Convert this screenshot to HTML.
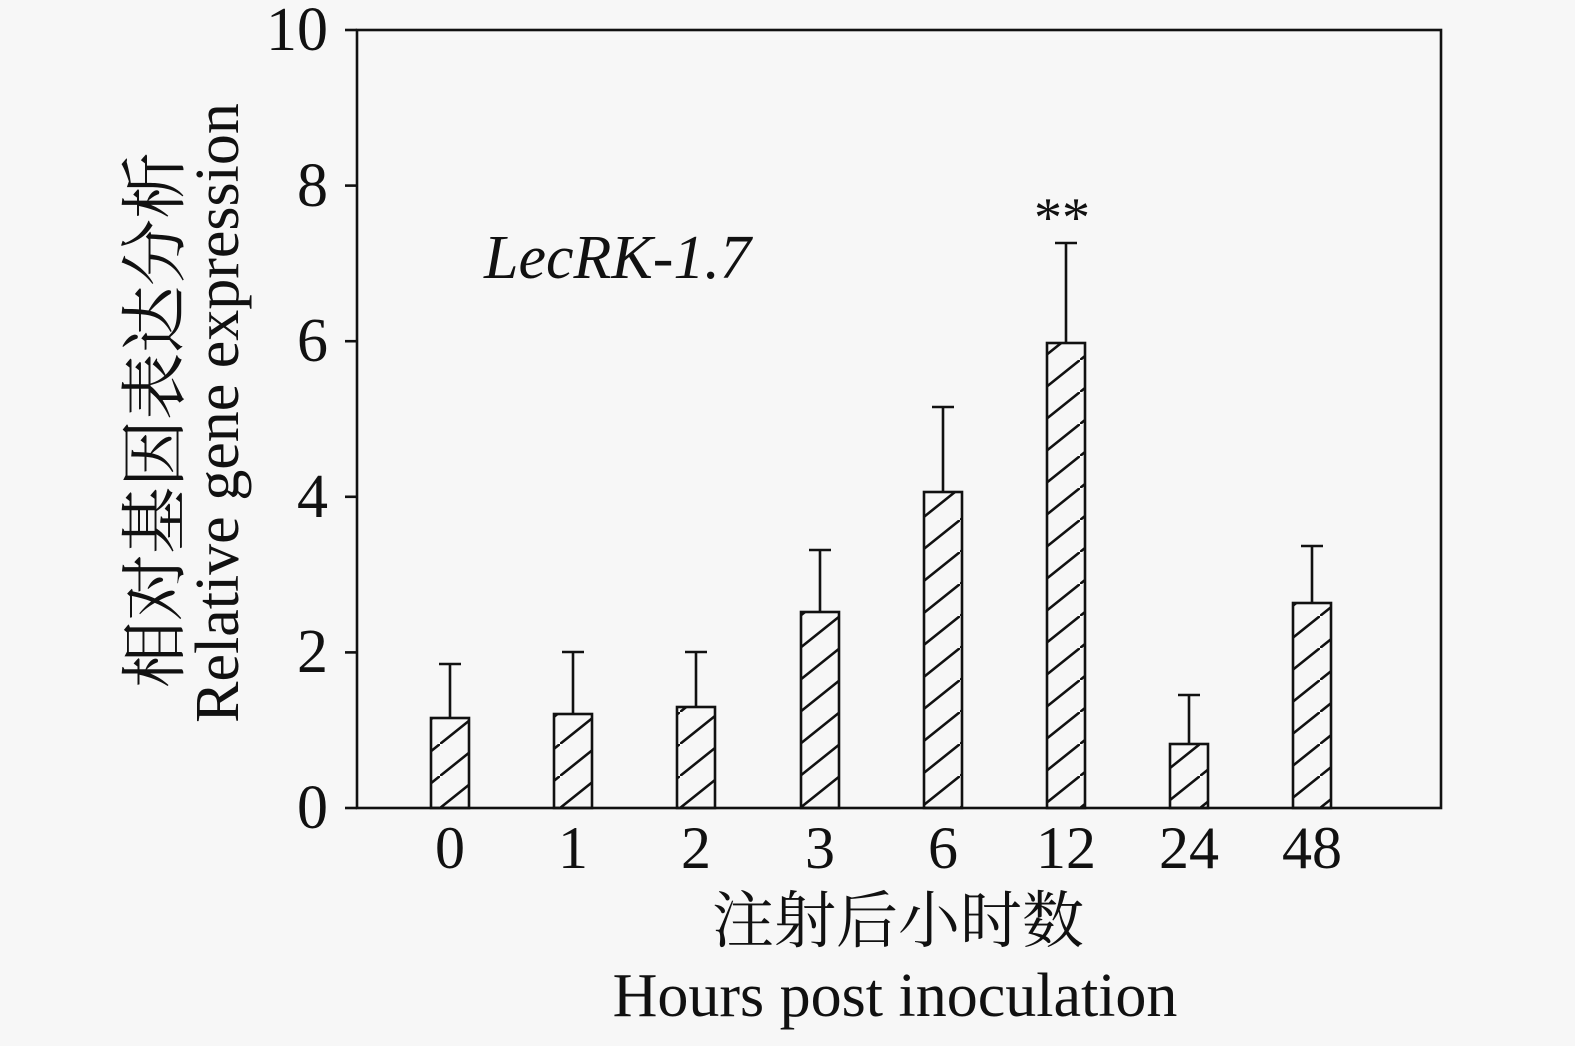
<!DOCTYPE html>
<html><head><meta charset="utf-8"><style>
html,body{margin:0;padding:0;background:#f7f7f7;}
</style></head><body>
<svg width="1575" height="1041" viewBox="0 0 1575 1041" xmlns="http://www.w3.org/2000/svg" font-family="'Liberation Serif','Noto Serif CJK SC',serif">
<defs>
<pattern id="h" patternUnits="userSpaceOnUse" width="40" height="32" patternTransform="translate(0,8)">
<path d="M-10,40 L40,0 M30,48 L80,8 M-50,32 L0,-8" stroke="#111" stroke-width="2.6" fill="none"/>
</pattern>
</defs>
<rect width="1575" height="1041" fill="#f7f7f7"/>
<g stroke="#111" stroke-width="2.6" fill="none">
<rect x="357" y="30" width="1084" height="778"/>
<line x1="345" y1="808" x2="357" y2="808"/>
<line x1="345" y1="652.4" x2="357" y2="652.4"/>
<line x1="345" y1="496.8" x2="357" y2="496.8"/>
<line x1="345" y1="341.2" x2="357" y2="341.2"/>
<line x1="345" y1="185.6" x2="357" y2="185.6"/>
<line x1="345" y1="30" x2="357" y2="30"/>
</g>
<g font-size="62" fill="#111" text-anchor="end">
<text x="328" y="828">0</text><text x="328" y="672">2</text><text x="328" y="517">4</text>
<text x="328" y="361">6</text><text x="328" y="206">8</text><text x="328" y="50">10</text>
</g>
<g stroke="#111" stroke-width="2.6">
<g fill="url(#h)">
<rect x="431" y="718" width="38" height="90"/>
<rect x="554" y="714" width="38" height="94"/>
<rect x="677" y="707" width="38" height="101"/>
<rect x="801" y="612" width="38" height="196"/>
<rect x="924" y="492" width="38" height="316"/>
<rect x="1047" y="343" width="38" height="465"/>
<rect x="1170" y="744" width="38" height="64"/>
<rect x="1293" y="603" width="38" height="205"/>
</g>
<path fill="none" d="M450,718V664M439,664H461 M573,714V652M562,652H584 M696,707V652M685,652H707 M820,612V550M809,550H831 M943,492V407M932,407H954 M1066,343V243M1055,243H1077 M1189,744V695M1178,695H1200 M1312,603V546M1301,546H1323"/>
</g>
<text x="1062" y="236" font-size="56" text-anchor="middle" fill="#111">**</text>
<text x="484" y="278" font-size="62" font-style="italic" fill="#111">LecRK-1.7</text>
<g font-size="60" fill="#111" text-anchor="middle">
<text x="450" y="868">0</text><text x="573" y="868">1</text><text x="696" y="868">2</text>
<text x="820" y="868">3</text><text x="943" y="868">6</text><text x="1066" y="868">12</text>
<text x="1189" y="868">24</text><text x="1312" y="868">48</text>
</g>
<text x="898" y="942" font-size="62" text-anchor="middle" fill="#111">注射后小时数</text>
<text x="895" y="1016" font-size="62" text-anchor="middle" fill="#111">Hours post inoculation</text>
<text transform="translate(178,420) rotate(-90)" font-size="67" text-anchor="middle" fill="#111">相对基因表达分析</text>
<text transform="translate(238,413) rotate(-90)" font-size="62" text-anchor="middle" fill="#111">Relative gene expression</text>
</svg>
</body></html>
